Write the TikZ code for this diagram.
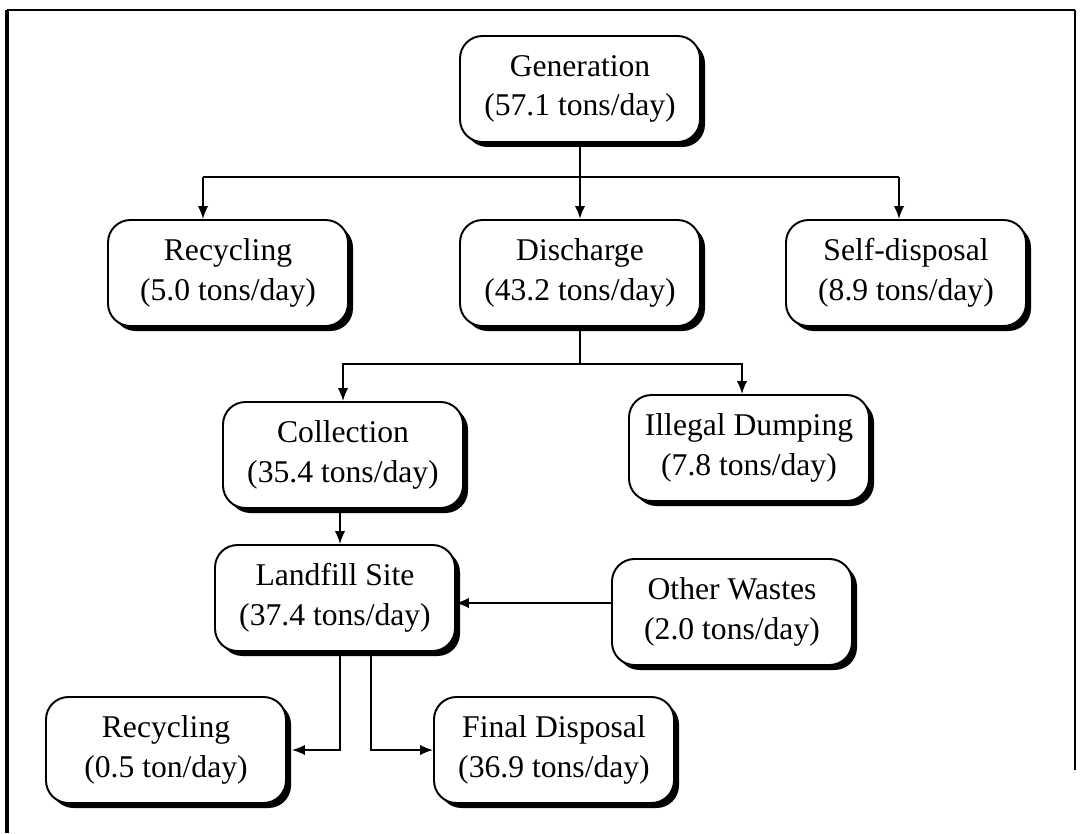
\documentclass[tikz,border=0pt]{standalone}
\usepackage{fontspec}
\setmainfont{Liberation Serif}
\usepackage{tikz}
\usetikzlibrary{positioning,arrows.meta,shadows}

\begin{document}
\begin{tikzpicture}[
    scale=1.0,
    font=\fontsize{18}{22.5}\selectfont,
    stage/.style={draw=black, fill=white, line width=1.1pt, rounded corners=0.45cm,
        minimum width=4.8cm, minimum height=2.12cm, align=center, inner sep=2pt,
        drop shadow={shadow xshift=0.1cm, shadow yshift=-0.1cm, fill=black, opacity=1}},
    flow/.style={line width=1pt, -{Latex[length=2.6mm,width=2.1mm]}},
    link/.style={line width=1pt}
]
    \useasboundingbox (0,0) rectangle (21.6,-16.66);

    % 1. Cornice aperta
    \draw[line width=0.6pt] (0.14,-0.2) -- (21.5,-0.2);
    \draw[line width=2pt] (0.14,-0.2) -- (0.14,-16.66);
    \draw[line width=1.6pt] (21.5,-0.2) -- (21.5,-15.4);

    % 2. Generazione e ripartizione
    \node[stage] (gen) at (11.6,-1.78) {Generation\\(57.1 tons/day)};

    \node[stage] (recyc) at (4.56,-5.46) {Recycling\\(5.0 tons/day)};
    \node[stage] (disch) at (11.6,-5.46) {Discharge\\(43.2 tons/day)};
    \node[stage] (selfdisp) at (18.12,-5.46) {Self-disposal\\(8.9 tons/day)};

    % 3. Raccolta e abbandono
    \node[stage] (collect) at (6.86,-9.1) {Collection\\(35.4 tons/day)};
    \node[stage] (illegal) at (14.98,-8.96) {Illegal Dumping\\(7.8 tons/day)};

    % 4. Discarica
    \node[stage] (landfill) at (6.7,-11.96) {Landfill Site\\(37.4 tons/day)};
    \node[stage] (other) at (14.64,-12.24) {Other Wastes\\(2.0 tons/day)};

    % 5. Destinazione finale
    \node[stage] (recycsite) at (3.32,-15.0) {Recycling\\(0.5 ton/day)};
    \node[stage] (final) at (11.08,-15.0) {Final Disposal\\(36.9 tons/day)};

    % =========================================================================
    % CONNESSIONI
    % =========================================================================

    % --- dalla generazione ---
    \coordinate (busL) at (4.06,-3.54);
    \coordinate (busR) at (17.98,-3.54);
    \draw[flow, line width=1.4pt] (gen.south) -- (disch.north);
    \draw[link] (busL) -- (busR);
    \draw[flow] (busL) -- (busL |- recyc.north);
    \draw[flow] (busR) -- (busR |- selfdisp.north);

    % --- dallo scarico ---
    \draw[link] (disch.south) -- ++(0,-0.74) coordinate (split);
    \draw[flow] (split) -| (collect.north);
    \draw[flow] (split) -| ([xshift=-0.14cm]illegal.north);

    % --- verso la discarica ---
    \draw[flow] ([xshift=-0.06cm]collect.south) -- ([xshift=-0.06cm]collect.south |- landfill.north);
    \draw[flow] ([yshift=0.18cm]other.west) -- ([yshift=0.18cm]other.west -| landfill.east);

    % --- dalla discarica ---
    \draw[flow] ([xshift=0.1cm]landfill.south) |- ([xshift=0.1cm]recycsite.east);
    \draw[flow] ([xshift=0.72cm]landfill.south) |- (final.west);

\end{tikzpicture}
\end{document}
